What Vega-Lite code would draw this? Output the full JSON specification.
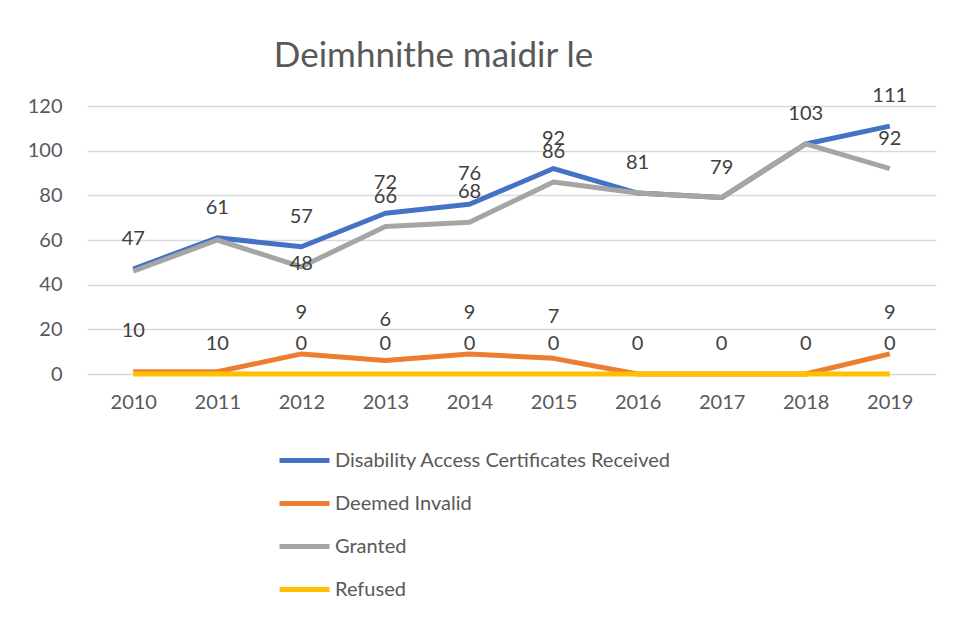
{
  "$schema": "https://vega.github.io/schema/vega-lite/v6.json",
  "autosize": "none",
  "width": 849,
  "height": 268,
  "padding": {"left": 87, "top": 106, "right": 17, "bottom": 248},
  "background": "white",
  "title": {
    "text": "Deimhnithe maidir le",
    "anchor": "middle",
    "dx": -78,
    "offset": 12,
    "fontSize": 35,
    "font": "Lato",
    "fontWeight": "normal",
    "color": "#595959"
  },
  "data": {
    "values": [
      {"year": "2010", "series": "Disability Access Certificates Received", "value": 47, "label": "47", "grp": "a"},
      {"year": "2011", "series": "Disability Access Certificates Received", "value": 61, "label": "61", "grp": "a"},
      {"year": "2012", "series": "Disability Access Certificates Received", "value": 57, "label": "57", "grp": "a"},
      {"year": "2013", "series": "Disability Access Certificates Received", "value": 72, "label": "72", "grp": "a"},
      {"year": "2014", "series": "Disability Access Certificates Received", "value": 76, "label": "76", "grp": "a"},
      {"year": "2015", "series": "Disability Access Certificates Received", "value": 92, "label": "92", "grp": "a"},
      {"year": "2016", "series": "Disability Access Certificates Received", "value": 81, "label": "81", "grp": "a"},
      {"year": "2017", "series": "Disability Access Certificates Received", "value": 79, "label": "79", "grp": "a"},
      {"year": "2018", "series": "Disability Access Certificates Received", "value": 103, "label": "103", "grp": "a"},
      {"year": "2019", "series": "Disability Access Certificates Received", "value": 111, "label": "111", "grp": "a"},
      {"year": "2010", "series": "Deemed Invalid", "value": 1, "label": "10", "grp": "b"},
      {"year": "2011", "series": "Deemed Invalid", "value": 1, "label": "", "grp": "b"},
      {"year": "2012", "series": "Deemed Invalid", "value": 9, "label": "9", "grp": "b"},
      {"year": "2013", "series": "Deemed Invalid", "value": 6, "label": "6", "grp": "b"},
      {"year": "2014", "series": "Deemed Invalid", "value": 9, "label": "9", "grp": "b"},
      {"year": "2015", "series": "Deemed Invalid", "value": 7, "label": "7", "grp": "b"},
      {"year": "2016", "series": "Deemed Invalid", "value": 0, "label": "", "grp": "b"},
      {"year": "2017", "series": "Deemed Invalid", "value": 0, "label": "", "grp": "b"},
      {"year": "2018", "series": "Deemed Invalid", "value": 0, "label": "", "grp": "b"},
      {"year": "2019", "series": "Deemed Invalid", "value": 9, "label": "9", "grp": "b"},
      {"year": "2010", "series": "Granted", "value": 46, "label": "", "grp": "a"},
      {"year": "2011", "series": "Granted", "value": 60, "label": "", "grp": "a"},
      {"year": "2012", "series": "Granted", "value": 48, "label": "48", "grp": "c"},
      {"year": "2013", "series": "Granted", "value": 66, "label": "66", "grp": "a"},
      {"year": "2014", "series": "Granted", "value": 68, "label": "68", "grp": "a"},
      {"year": "2015", "series": "Granted", "value": 86, "label": "86", "grp": "a"},
      {"year": "2016", "series": "Granted", "value": 81, "label": "", "grp": "a"},
      {"year": "2017", "series": "Granted", "value": 79, "label": "", "grp": "a"},
      {"year": "2018", "series": "Granted", "value": 103, "label": "", "grp": "a"},
      {"year": "2019", "series": "Granted", "value": 92, "label": "92", "grp": "a"},
      {"year": "2010", "series": "Refused", "value": 0, "label": "", "grp": "a"},
      {"year": "2011", "series": "Refused", "value": 0, "label": "10", "grp": "a"},
      {"year": "2012", "series": "Refused", "value": 0, "label": "0", "grp": "a"},
      {"year": "2013", "series": "Refused", "value": 0, "label": "0", "grp": "a"},
      {"year": "2014", "series": "Refused", "value": 0, "label": "0", "grp": "a"},
      {"year": "2015", "series": "Refused", "value": 0, "label": "0", "grp": "a"},
      {"year": "2016", "series": "Refused", "value": 0, "label": "0", "grp": "a"},
      {"year": "2017", "series": "Refused", "value": 0, "label": "0", "grp": "a"},
      {"year": "2018", "series": "Refused", "value": 0, "label": "0", "grp": "a"},
      {"year": "2019", "series": "Refused", "value": 0, "label": "0", "grp": "a"}
    ]
  },
  "encoding": {
    "x": {
      "field": "year", "type": "ordinal",
      "scale": {"type": "point", "padding": 0.55},
      "axis": {"title": null, "labelAngle": 0, "domain": false, "ticks": false, "grid": false,
               "labelFontSize": 20, "labelFont": "Lato", "labelColor": "#595959", "labelPadding": 18}
    },
    "y": {
      "field": "value", "type": "quantitative",
      "scale": {"domain": [0, 120], "nice": false},
      "axis": {"title": null, "values": [0, 20, 40, 60, 80, 100, 120], "domain": false, "ticks": false,
               "gridColor": "#d9d9d9", "gridWidth": 1.3, "labelFontSize": 20, "labelFont": "Lato",
               "labelColor": "#595959", "labelPadding": 25}
    }
  },
  "layer": [
    {
      "mark": {"type": "line", "strokeWidth": 5, "strokeJoin": "round"},
      "encoding": {
        "color": {
          "field": "series", "type": "nominal",
          "sort": ["Disability Access Certificates Received", "Deemed Invalid", "Granted", "Refused"],
          "scale": {
            "domain": ["Disability Access Certificates Received", "Deemed Invalid", "Granted", "Refused"],
            "range": ["#4472C4", "#ED7D31", "#A5A5A5", "#FFC000"]
          },
          "legend": {
            "title": null, "orient": "none", "legendX": 190, "legendY": 327,
            "direction": "vertical", "symbolType": "stroke", "symbolSize": 2500,
            "symbolStrokeWidth": 5, "labelFontSize": 20, "labelFont": "Lato",
            "labelColor": "#595959", "rowPadding": 5, "labelOffset": 3,
            "labelLimit": 500
          }
        },
        "order": {"field": "series", "type": "nominal"}
      }
    },
    {
      "transform": [{"filter": "datum.label != '' && datum.series != 'Deemed Invalid' && datum.grp == 'a'"}],
      "mark": {"type": "text", "dy": -30, "fontSize": 20, "font": "Lato", "color": "#404040"},
      "encoding": {"text": {"field": "label"}}
    },
    {
      "transform": [{"filter": "datum.label != '' && datum.series == 'Deemed Invalid'"}],
      "mark": {"type": "text", "dy": -41, "fontSize": 20, "font": "Lato", "color": "#404040"},
      "encoding": {"text": {"field": "label"}}
    },
    {
      "transform": [{"filter": "datum.grp == 'c'"}],
      "mark": {"type": "text", "dy": -3, "fontSize": 20, "font": "Lato", "color": "#404040"},
      "encoding": {"text": {"field": "label"}}
    }
  ],
  "config": {"view": {"stroke": null}}
}
